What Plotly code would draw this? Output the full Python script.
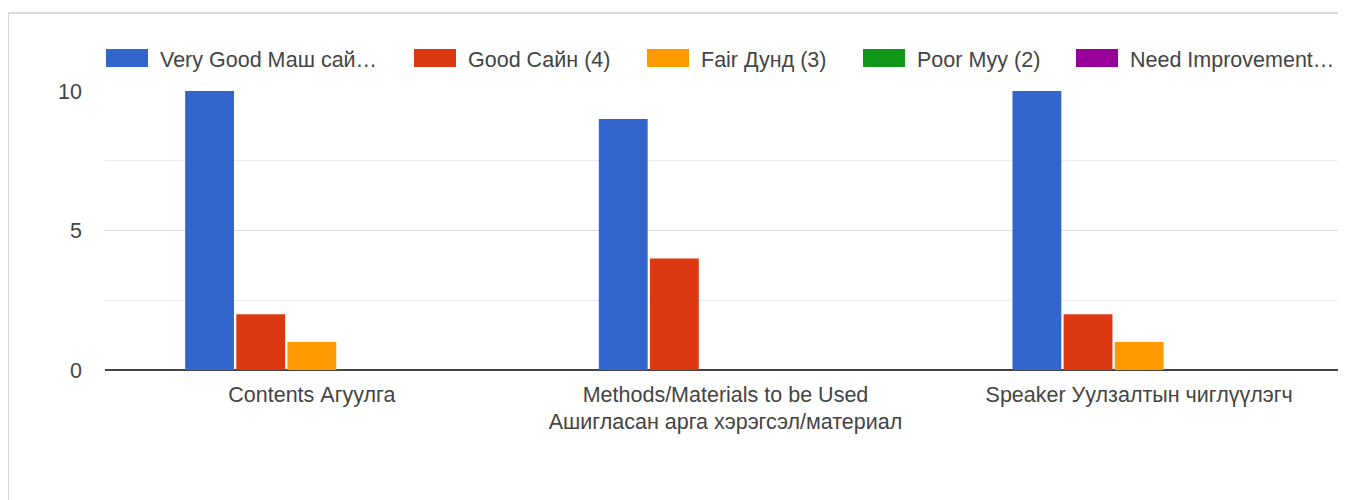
import plotly.graph_objects as go

categories = [
    "Contents Агуулга",
    "Methods/Materials to be Used<br>Ашигласан арга хэрэгсэл/материал",
    "Speaker Уулзалтын чиглүүлэгч",
]
series_names = [
    "Very Good Маш сай…",
    "Good Сайн (4)",
    "Fair Дунд (3)",
    "Poor Муу (2)",
    "Need Improvement…",
]
very_good = [10, 9, 10]
good = [2, 4, 2]
fair = [1, 0, 1]
poor = [0, 0, 0]
need_improvement = [0, 0, 0]
colors = ["#3366cc", "#dc3912", "#ff9900", "#109618", "#990099"]

# page offset (default body margin of the html page)
OFF = 8
W, H = 1338, 492
L, R, T, B = 97, 0, 83, 130
pw, ph = W - L - R, H - T - B

def px(x):
    return (x - OFF - L) / pw

def py(y):
    return (OFF + T + ph - y) / ph

fig = go.Figure()
for name, vals, col in zip(series_names, [very_good, good, fair, poor, need_improvement], colors):
    fig.add_trace(go.Bar(x=categories, y=vals, name=name, marker=dict(color=col, line=dict(width=0)),
                         showlegend=False))

font_family = "Liberation Sans, Arial, sans-serif"
text_color = "#444444"
fs = 21.5

shapes = []
annotations = []
# border (top and left)
shapes.append(dict(type="line", xref="paper", yref="paper", x0=px(8), x1=px(1360), y0=py(13), y1=py(13),
                   line=dict(color="#cccccc", width=1.5)))
shapes.append(dict(type="line", xref="paper", yref="paper", x0=px(8), x1=px(8), y0=py(13), y1=py(510),
                   line=dict(color="#cccccc", width=1.5)))
# custom legend
legend_x = [106, 414, 647, 863, 1076]
for lx, name, col in zip(legend_x, series_names, colors):
    shapes.append(dict(type="rect", xref="paper", yref="paper", x0=px(lx), x1=px(lx + 42),
                       y0=py(67), y1=py(49), fillcolor=col, line=dict(width=0)))
    annotations.append(dict(text=name, xref="paper", yref="paper", x=px(lx + 52), y=py(60),
                            xanchor="left", yanchor="middle", showarrow=False,
                            font=dict(size=fs, color=text_color, family=font_family)))

fig.update_layout(
    width=W, height=H,
    margin=dict(l=L, r=R, t=T, b=B, pad=0),
    paper_bgcolor="white", plot_bgcolor="white",
    barmode="group", bargap=0.382, bargroupgap=0.045,
    showlegend=False,
    font=dict(family=font_family, size=fs, color=text_color),
    shapes=shapes, annotations=annotations,
    xaxis=dict(showgrid=False, showline=False, ticks="", ticklabelstandoff=9,
               tickfont=dict(size=fs, color=text_color)),
    yaxis=dict(range=[0, 10], tickvals=[0, 5, 10], showgrid=True, gridcolor="#dddddd", gridwidth=1,
               minor=dict(tickvals=[2.5, 7.5], showgrid=True, gridcolor="#ebebeb", gridwidth=1),
               zeroline=True, zerolinecolor="#444444", zerolinewidth=2,
               showline=False, ticks="", ticklabelstandoff=22,
               tickfont=dict(size=fs, color=text_color)),
)

fig.write_html("out.html")
